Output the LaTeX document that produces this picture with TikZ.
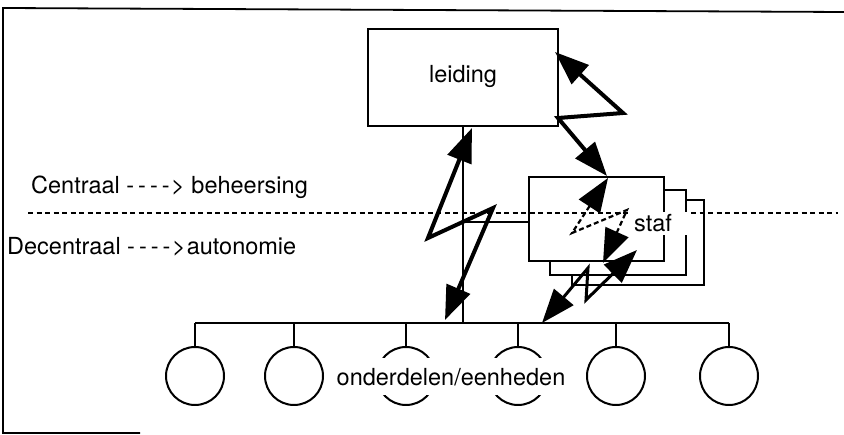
\documentclass[tikz,border=0pt]{standalone}
\usepackage{fontspec}
\setmainfont{TeX Gyre Heros}
\usetikzlibrary{arrows.meta}
\newcommand\myarr{\mbox{-\kern4pt-\kern4pt-\kern4pt-\kern1.5pt>}}
\begin{document}
\begin{tikzpicture}[x=1pt,y=-1pt,
  lbl/.style={font=\fontsize{23.5}{26}\selectfont, inner sep=0pt},
  box/.style={draw, line width=2pt, fill=white, inner sep=0pt, anchor=north west},
  conn/.style={line width=2pt},
  bigtips/.style={{Triangle[length=34pt,width=25pt]}-{Triangle[length=34pt,width=25pt]}},
  zig/.style={bigtips, line width=4pt, line join=miter},
  zigthin/.style={bigtips, line width=3pt, line join=miter},
  zigdash/.style={bigtips, line width=2.2pt, dash pattern=on 5pt off 3pt},
  unitc/.style={circle, draw, line width=2pt, minimum size=58pt, inner sep=0pt},
  sepline/.style={line width=1.7pt, dash pattern=on 5pt off 3.5pt},
  frame/.style={line width=1.8pt}
]
\useasboundingbox (0,0) rectangle (844,435);

% partial outer frame
\coordinate (fbl) at (140,433);
\coordinate (fcl) at (3,433);
\coordinate (ftl) at (3,8);
\coordinate (ftr) at (844,12);
\draw[frame] (fbl) -- (fcl) -- (ftl) -- (ftr);

% leiding
\node[box, minimum width=190pt, minimum height=97pt] (lead) at (367,28) {};
\node[lbl, anchor=base] (leadtxt) at (463,83) {leiding};

% staf boxes (back to front)
\node[box, minimum width=132pt, minimum height=85pt] (staf3) at (571,199) {};
\node[box, minimum width=136pt, minimum height=85pt] (staf2) at (549,189) {};
\node[box, minimum width=135pt, minimum height=84pt] (staf1) at (528,176) {};

% bus and units
\coordinate (busL) at (195,323);
\coordinate (busR) at (729,323);
\coordinate (busM) at (lead.south |- busL);
\draw[conn] (busL) -- (busR);
\draw[conn] (lead.south) -- (busM);
\coordinate (hj) at (lead.south |- 0,222);
\coordinate (hs) at (staf1.west |- 0,222);
\draw[conn] (hj) -- (hs);

\foreach \i/\x in {1/195,2/294,3/406,4/518,5/616,6/729}{
  \node[unitc] (u\i) at (\x,376) {};
  \coordinate (d\i) at (\x,323);
  \draw[conn] (d\i) -- (u\i.north);
}

% separation line
\coordinate (sL) at (28,213);
\coordinate (sR) at (838,213);
\draw[sepline] (sL) -- (sR);

% labels with white backgrounds
\fill[white] (628,212) rectangle (690,235);
\node[lbl, anchor=base] (staftxt) at (653,232) {staf};
\node[lbl, anchor=base, fill=white, text height=28pt, text depth=9pt, inner xsep=2pt] (units) at (451,386) {onderdelen/eenheden};

\node[lbl, anchor=base west] (cen) at (31,194) {Centraal \myarr\ beheersing};
\node[lbl, anchor=base west] (dec) at (7,255) {Decentraal \myarr\kern1pt autonomie};

% zigzag arrows
\coordinate (a1) at (472,128);
\coordinate (a2) at (428,238);
\coordinate (a3) at (493,208);
\coordinate (a4) at (445,320);
\draw[zig] (a1) -- (a2) -- (a3) -- (a4);

\coordinate (b1) at (555,52);
\coordinate (b2) at (623,113);
\coordinate (b3) at (558,118);
\coordinate (b4) at (607,176);
\draw[zig] (b1) -- (b2) -- (b3) -- (b4);

\coordinate (c1) at (608,178);
\coordinate (c2) at (572,233);
\coordinate (c3) at (627,210);
\coordinate (c4) at (603,263);
\draw[zigdash] (c1) -- (c2) -- (c3) -- (c4);

\coordinate (e1) at (637,250);
\coordinate (e2) at (586,300);
\coordinate (e3) at (588,268);
\coordinate (e4) at (542,323);
\draw[zigthin] (e1) -- (e2) -- (e3) -- (e4);
\end{tikzpicture}
\end{document}
